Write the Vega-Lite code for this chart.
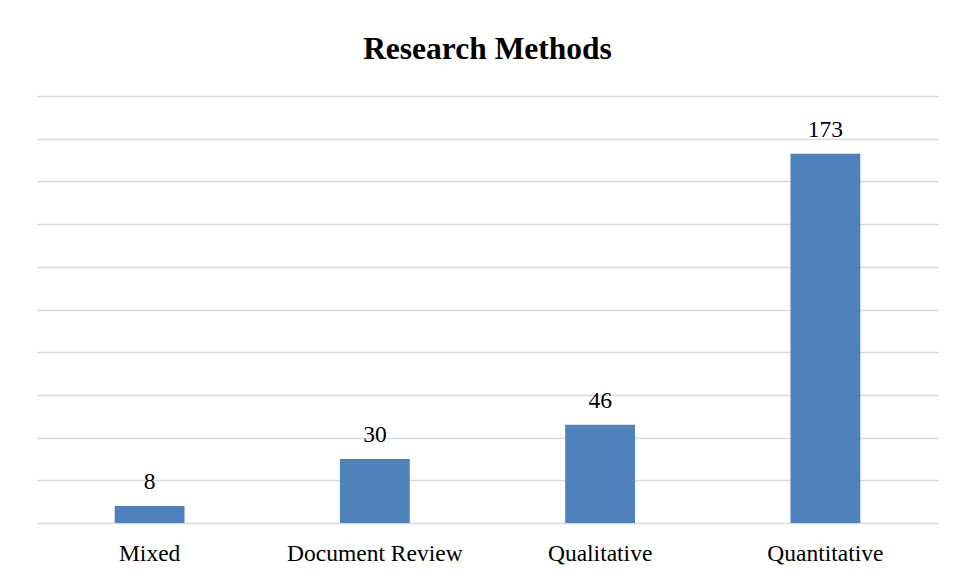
{
  "$schema": "https://vega.github.io/schema/vega-lite/v6.json",
  "autosize": "none",
  "width": 901,
  "height": 427,
  "padding": {"left": 37, "top": 96, "right": 18, "bottom": 56},
  "background": "white",
  "config": {"view": {"stroke": null}, "font": "Times New Roman, Liberation Serif, serif"},
  "title": {"text": "Research Methods", "font": "Times New Roman, Liberation Serif, serif", "fontSize": 31.5, "fontWeight": "bold", "color": "#000000", "baseline": "alphabetic", "offset": 6, "anchor": "middle"},
  "data": {"values": [
    {"method": "Mixed", "count": 8},
    {"method": "Document Review", "count": 30},
    {"method": "Qualitative", "count": 46},
    {"method": "Quantitative", "count": 173}
  ]},
  "encoding": {
    "x": {"field": "method", "type": "nominal", "sort": null, "title": null,
      "scale": {"paddingInner": 0.69, "paddingOuter": 0.345},
      "axis": {"domain": false, "ticks": false, "labelAngle": 0, "labelFont": "Times New Roman, Liberation Serif, serif", "labelFontSize": 23.5, "labelColor": "#000000", "labelBaseline": "alphabetic", "labelPadding": 37, "grid": false}},
    "y": {"field": "count", "type": "quantitative", "title": null,
      "scale": {"domain": [0, 200], "nice": false},
      "axis": {"values": [0, 20, 40, 60, 80, 100, 120, 140, 160, 180, 200], "domain": false, "ticks": false, "labels": false, "grid": true, "gridColor": "#d9d9d9", "gridWidth": 1.3}}
  },
  "layer": [
    {"mark": {"type": "bar", "color": "#4f81bd"}},
    {"mark": {"type": "text", "baseline": "alphabetic", "dy": -17, "fontSize": 23.5, "font": "Times New Roman, Liberation Serif, serif", "color": "#000000"},
     "encoding": {"text": {"field": "count", "type": "quantitative"}}}
  ]
}
